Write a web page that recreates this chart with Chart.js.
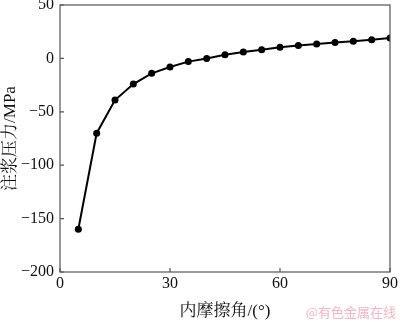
<!DOCTYPE html>
<html>
<head>
<meta charset="utf-8">
<script src="https://cdn.jsdelivr.net/npm/chart.js@4/dist/chart.umd.min.js"></script>
<style>
  html, body { margin: 0; padding: 0; background: #fff; }
  #wrap { width: 400px; height: 322px; }
</style>
</head>
<body>
<div id="wrap"><canvas id="chart"></canvas></div>
<script>
const angles = [5, 10, 15, 20, 25, 30, 35, 40, 45, 50, 55, 60, 65, 70, 75, 80, 85, 90];
const pressure = [-160, -70, -39, -24, -14, -8, -3, 0, 3.5, 6, 8, 10.5, 12, 13.5, 15, 16, 17.5, 19];
const xTicks = [0, 30, 60, 90];
const yTicks = [-200, -150, -100, -50, 0, 50];

const serif = "'Liberation Serif', 'Times New Roman', 'Noto Serif CJK SC', 'Noto Sans CJK SC', serif";

// box frame + inward tick marks + watermark
const frame = {
  id: 'frame',
  afterDraw(chart) {
    const { ctx, chartArea: a, scales } = chart;
    ctx.save();
    ctx.strokeStyle = '#555';
    ctx.lineWidth = 1.2;
    ctx.strokeRect(a.left, a.top, a.right - a.left, a.bottom - a.top);
    ctx.beginPath();
    xTicks.forEach(v => {
      const px = scales.x.getPixelForValue(v);
      ctx.moveTo(px, a.bottom);
      ctx.lineTo(px, a.bottom - 4);
    });
    yTicks.forEach(v => {
      const py = scales.y.getPixelForValue(v);
      ctx.moveTo(a.left, py);
      ctx.lineTo(a.left + 4, py);
    });
    ctx.stroke();
    ctx.fillStyle = '#f2b6c0';
    ctx.font = "13px 'Noto Sans CJK SC', sans-serif";
    ctx.textAlign = 'right';
    ctx.textBaseline = 'middle';
    ctx.fillText('@有色金属在线', 396, 312);
    ctx.restore();
  }
};

new Chart(document.getElementById('chart'), {
  type: 'line',
  data: {
    datasets: [{
      data: angles.map((a, i) => ({ x: a, y: pressure[i] })),
      borderColor: '#000',
      backgroundColor: '#000',
      borderWidth: 2,
      pointRadius: 3.5,
      pointBackgroundColor: '#000',
      pointBorderWidth: 0,
      tension: 0,
      fill: false,
    }],
  },
  options: {
    responsive: true,
    maintainAspectRatio: false,
    animation: false,
    layout: { padding: { top: 5, right: 9, left: 0, bottom: 0 } },
    plugins: { legend: { display: false }, tooltip: { enabled: false } },
    scales: {
      x: {
        type: 'linear',
        min: 0,
        max: 90,
        afterBuildTicks: s => { s.ticks = xTicks.map(v => ({ value: v })); },
        afterFit: s => { s.height = 50; },
        grid: { display: false, drawTicks: false },
        border: { display: false },
        ticks: { color: '#111', padding: 2, font: { family: serif, size: 16 } },
        title: {
          display: true,
          text: '内摩擦角/(°)',
          color: '#111',
          padding: { top: 0, bottom: 0 },
          font: { family: serif, size: 17 },
        },
      },
      y: {
        min: -200,
        max: 50,
        afterBuildTicks: s => { s.ticks = yTicks.map(v => ({ value: v })); },
        afterFit: s => { s.width = 60; s.paddingTop = 0; },
        grid: { display: false, drawTicks: false },
        border: { display: false },
        ticks: {
          color: '#111',
          padding: 6,
          font: { family: serif, size: 16 },
          callback: v => String(v).replace('-', '\u2212'),
        },
        title: {
          display: true,
          text: '注浆压力/MPa',
          color: '#111',
          padding: { top: 0, bottom: 0 },
          font: { family: serif, size: 17 },
        },
      },
    },
  },
  plugins: [frame],
});
</script>
</body>
</html>
